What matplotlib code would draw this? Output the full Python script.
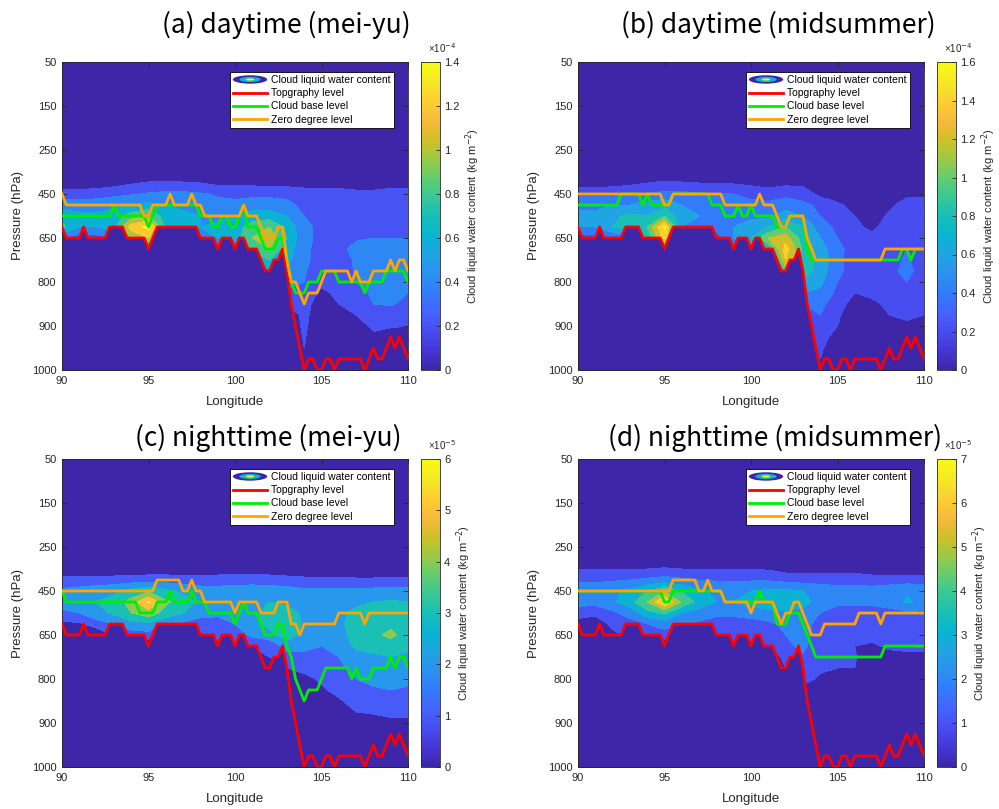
import numpy as np
import matplotlib
matplotlib.use("Agg")
import matplotlib.pyplot as plt
from matplotlib.colors import LinearSegmentedColormap, Normalize
from matplotlib.cm import ScalarMappable
from matplotlib.legend_handler import HandlerBase
from matplotlib.patches import Ellipse

plt.rcParams['font.family'] = ['Liberation Sans', 'DejaVu Sans']

# ---------------------------------------------------------------- data
# pressure levels, bottom (index 0) to top
levels_hpa = [1000, 975, 950, 925, 900, 875, 850, 825, 800, 775, 750, 700, 650,
              600, 550, 500, 450, 400, 350, 300, 250, 225, 200, 175, 150, 125,
              100, 70, 50]
ytick_hpa = [1000, 900, 800, 650, 450, 250, 150, 50]

lon_line = np.linspace(90, 110, 81)      # 0.25 deg
lon_field = np.arange(90, 111)           # 1 deg

topography = [
    600, 650, 650, 650, 650, 600, 650, 650, 650, 650,
    650, 600, 600, 600, 600, 650, 650, 650, 650, 650,
    700, 650, 600, 600, 600, 600, 600, 600, 600, 600,
    600, 600, 650, 650, 650, 650, 700, 650, 650, 650,
    700, 650, 650, 700, 700, 700, 750, 775, 775, 750,
    750, 700, 775, 850, 900, 950, 1000, 975, 975, 1000,
    1000, 975, 975, 1000, 975, 975, 975, 975, 975, 975,
    1000, 975, 950, 975, 975, 950, 925, 950, 925, 950,
    975]

base_a = [
    550, 550, 550, 550, 550, 550, 550, 550, 550, 550,
    550, 550, 500, 550, 550, 550, 550, 550, 550, 550,
    600, 550, 500, 500, 500, 500, 500, 500, 500, 500,
    500, 500, 550, 550, 550, 600, 600, 550, 550, 600,
    600, 550, 500, 600, 600, 600, 650, 700, 700, 700,
    650, 650, 750, 800, 825, 825, 825, 800, 800, 800,
    775, 775, 775, 775, 800, 800, 800, 800, 800, 800,
    825, 800, 800, 800, 800, 775, 775, 775, 775, 775,
    800]
zero_a = [
    450, 500, 500, 500, 500, 500, 500, 500, 500, 500,
    500, 500, 500, 500, 500, 500, 500, 500, 500, 550,
    550, 500, 500, 500, 500, 450, 500, 500, 500, 500,
    450, 500, 500, 550, 550, 550, 550, 550, 550, 550,
    550, 550, 500, 550, 550, 550, 600, 650, 650, 650,
    600, 600, 750, 800, 800, 825, 850, 825, 825, 825,
    800, 775, 775, 775, 775, 775, 775, 800, 775, 800,
    800, 800, 775, 775, 775, 775, 750, 775, 750, 750,
    775]

base_b = [
    500, 500, 500, 500, 500, 500, 500, 500, 500, 500,
    450, 450, 450, 450, 450, 500, 450, 500, 500, 500,
    500, 500, 450, 450, 450, 450, 450, 450, 450, 450,
    450, 500, 500, 500, 550, 550, 550, 500, 550, 550,
    500, 550, 550, 550, 550, 550, 600, 600, 600, 550,
    550, 550, 550, 700, 750, 750, 750, 750, 750, 750,
    750, 750, 750, 750, 750, 750, 750, 750, 750, 750,
    750, 750, 750, 750, 750, 700, 700, 750, 700, 700,
    700]
zero_b = [
    450, 450, 450, 450, 450, 450, 450, 450, 450, 450,
    450, 450, 450, 450, 450, 450, 450, 450, 450, 450,
    500, 500, 450, 450, 450, 450, 450, 450, 450, 450,
    450, 450, 450, 450, 500, 500, 500, 500, 500, 500,
    500, 500, 450, 500, 500, 500, 550, 600, 600, 550,
    550, 550, 550, 650, 700, 750, 750, 750, 750, 750,
    750, 750, 750, 750, 750, 750, 750, 750, 750, 750,
    750, 700, 700, 700, 700, 700, 700, 700, 700, 700,
    700]

base_c = [
    450, 500, 500, 500, 500, 500, 500, 500, 500, 500,
    500, 500, 500, 500, 500, 500, 500, 500, 550, 550,
    550, 550, 500, 500, 500, 450, 500, 500, 500, 500,
    450, 500, 500, 500, 550, 550, 550, 550, 550, 550,
    600, 550, 500, 550, 550, 550, 600, 650, 650, 650,
    600, 600, 700, 750, 800, 825, 850, 825, 825, 825,
    800, 775, 775, 775, 775, 775, 775, 800, 775, 800,
    800, 800, 775, 775, 775, 775, 750, 775, 750, 750,
    775]
zero_c = [
    450, 450, 450, 450, 450, 450, 450, 450, 450, 450,
    450, 450, 450, 450, 450, 450, 450, 450, 450, 450,
    450, 450, 400, 400, 400, 400, 400, 400, 450, 450,
    400, 450, 450, 500, 500, 500, 500, 500, 500, 500,
    550, 500, 500, 500, 500, 500, 550, 550, 550, 550,
    500, 500, 500, 600, 600, 650, 600, 600, 600, 600,
    600, 600, 600, 600, 550, 550, 550, 550, 550, 550,
    600, 550, 550, 550, 550, 550, 550, 550, 550, 550,
    550]

base_d = [
    450, 450, 450, 450, 450, 450, 450, 450, 450, 450,
    450, 450, 450, 450, 450, 450, 450, 450, 450, 450,
    500, 500, 450, 450, 450, 450, 450, 450, 450, 450,
    450, 450, 450, 450, 500, 500, 500, 500, 500, 500,
    500, 500, 450, 500, 500, 500, 600, 600, 600, 550,
    550, 550, 600, 650, 700, 750, 750, 750, 750, 750,
    750, 750, 750, 750, 750, 750, 750, 750, 750, 750,
    750, 700, 700, 700, 700, 700, 700, 700, 700, 700,
    700]
zero_d = [
    450, 450, 450, 450, 450, 450, 450, 450, 450, 450,
    450, 450, 450, 450, 450, 450, 450, 450, 450, 450,
    450, 450, 400, 400, 400, 400, 400, 400, 450, 450,
    400, 450, 450, 450, 500, 500, 500, 500, 500, 500,
    550, 500, 500, 500, 500, 500, 550, 600, 550, 550,
    500, 500, 550, 600, 650, 650, 650, 600, 600, 600,
    600, 600, 600, 600, 600, 550, 550, 550, 550, 550,
    600, 550, 550, 550, 550, 550, 550, 550, 550, 550,
    550]

# cloud liquid water content on the 1-degree grid (rows = field_hpa)
field_hpa = [300, 350, 400, 450, 500, 550, 600, 650, 700, 750, 775, 800,
             825, 850, 875, 900, 925, 950, 975]
#          90   91   92   93   94   95   96   97   98   99  100  101  102  103  104  105  106  107  108  109  110
clw_a = [  # x 1e-4
    [0] * 21,
    [0] * 21,
    [.05, .05, .08, .12, .18, .22, .24, .22, .20, .15, .15, .15, .12, .12, .10, .10, .10, .05, .05, .10, .10],
    [.30, .30, .32, .35, .38, .42, .45, .45, .42, .38, .35, .35, .35, .35, .32, .30, .30, .28, .28, .30, .30],
    [.50, .50, .50, .55, .60, .65, .60, .55, .50, .45, .45, .50, .50, .45, .35, .35, .35, .32, .35, .35, .35],
    [.75, .65, .65, .70, .90, 1.0, .70, .65, .60, .55, .60, .70, .70, .60, .40, .35, .35, .35, .35, .35, .35],
    [.85, .60, .60, .70, 1.3, 1.45, .75, .70, .60, .65, .70, .90, 1.0, .75, .45, .35, .35, .35, .35, .38, .38],
    [.40, .30, .30, .40, 1.0, 1.2, .50, .50, .40, .60, .70, 1.0, 1.1, .80, .45, .35, .35, .38, .40, .40, .40],
    [0, 0, 0, 0, 0, .50, 0, 0, 0, .30, .40, .90, 1.0, .70, .45, .32, .35, .45, .52, .55, .50],
    [0, 0, 0, 0, 0, 0, 0, 0, 0, 0, 0, .40, .80, .65, .45, .30, .32, .42, .50, .52, .48],
    [0, 0, 0, 0, 0, 0, 0, 0, 0, 0, 0, 0, .60, .60, .42, .28, .30, .42, .48, .50, .45],
    [0, 0, 0, 0, 0, 0, 0, 0, 0, 0, 0, 0, .20, .50, .40, .25, .28, .40, .45, .48, .42],
    [0, 0, 0, 0, 0, 0, 0, 0, 0, 0, 0, 0, 0, .35, .35, .15, .25, .35, .42, .45, .40],
    [0, 0, 0, 0, 0, 0, 0, 0, 0, 0, 0, 0, 0, .20, .30, .05, .20, .28, .40, .42, .35],
    [0, 0, 0, 0, 0, 0, 0, 0, 0, 0, 0, 0, 0, 0, .28, 0, .10, .20, .25, .30, .25],
    [0, 0, 0, 0, 0, 0, 0, 0, 0, 0, 0, 0, 0, 0, .25, 0, 0, .08, .25, .22, .20],
    [0, 0, 0, 0, 0, 0, 0, 0, 0, 0, 0, 0, 0, 0, .22, 0, 0, 0, .15, .10, .12],
    [0, 0, 0, 0, 0, 0, 0, 0, 0, 0, 0, 0, 0, 0, .20, 0, 0, 0, 0, 0, 0],
    [0, 0, 0, 0, 0, 0, 0, 0, 0, 0, 0, 0, 0, 0, .15, 0, 0, 0, 0, 0, 0],
]
clw_b = [  # x 1e-4
    [0] * 21,
    [0] * 21,
    [.10, .10, .12, .15, .20, .24, .22, .20, .20, .18, .15, .12, .15, .15, .05, 0, 0, 0, 0, 0, 0],
    [.35, .35, .35, .38, .42, .45, .45, .42, .42, .40, .35, .30, .35, .30, .15, .05, 0, 0, .05, .15, .15],
    [.55, .55, .60, .60, .70, .75, .60, .55, .55, .50, .45, .45, .50, .45, .35, .25, .10, 0, .15, .30, .30],
    [.65, .65, .75, .85, .80, 1.0, .65, .60, .55, .55, .55, .55, .70, .60, .40, .30, .20, .05, .25, .30, .30],
    [.60, .60, .80, .90, 1.0, 1.65, .60, .60, .50, .60, .70, .80, 1.0, .80, .50, .35, .25, .15, .30, .35, .30],
    [.30, .30, .40, .50, .80, 1.5, .30, .30, .30, .60, .80, 1.2, 1.3, .90, .60, .40, .30, .25, .35, .35, .32],
    [0, 0, 0, 0, 0, .60, 0, 0, 0, .40, .60, .80, 1.5, .95, .70, .45, .32, .28, .35, .40, .32],
    [0, 0, 0, 0, 0, 0, 0, 0, 0, 0, 0, .30, 1.4, .90, .75, .45, .30, .28, .35, .42, .32],
    [0, 0, 0, 0, 0, 0, 0, 0, 0, 0, 0, 0, 1.0, .90, .70, .45, .30, .30, .35, .45, .32],
    [0, 0, 0, 0, 0, 0, 0, 0, 0, 0, 0, 0, .30, .80, .65, .40, .25, .30, .35, .40, .30],
    [0, 0, 0, 0, 0, 0, 0, 0, 0, 0, 0, 0, 0, .60, .55, .35, .20, .25, .30, .35, .25],
    [0, 0, 0, 0, 0, 0, 0, 0, 0, 0, 0, 0, 0, .40, .45, .30, .10, .15, .25, .30, .22],
    [0, 0, 0, 0, 0, 0, 0, 0, 0, 0, 0, 0, 0, 0, .40, .25, 0, .05, .20, .25, .20],
    [0, 0, 0, 0, 0, 0, 0, 0, 0, 0, 0, 0, 0, 0, .35, .20, 0, 0, .10, .15, .15],
    [0, 0, 0, 0, 0, 0, 0, 0, 0, 0, 0, 0, 0, 0, .30, .10, 0, 0, 0, 0, 0],
    [0, 0, 0, 0, 0, 0, 0, 0, 0, 0, 0, 0, 0, 0, .25, 0, 0, 0, 0, 0, 0],
    [0, 0, 0, 0, 0, 0, 0, 0, 0, 0, 0, 0, 0, 0, .20, 0, 0, 0, 0, 0, 0],
]
clw_c = [  # x 1e-5
    [0] * 21,
    [.3, .3, .3, .3, .3, .3, .3, .3, .3, .4, .4, .4, .4, .3, .2, .2, .2, .1, .1, .1, .1],
    [1.3, 1.3, 1.4, 1.4, 1.5, 1.6, 1.6, 1.5, 1.4, 1.5, 1.6, 1.6, 1.5, 1.4, 1.3, 1.3, 1.3, 1.2, 1.2, 1.3, 1.3],
    [2.2, 2.4, 2.6, 2.8, 3.3, 3.8, 3.2, 2.8, 2.5, 2.4, 2.4, 2.5, 2.5, 2.4, 2.2, 2.2, 2.2, 2.2, 2.3, 2.4, 2.4],
    [2.4, 2.6, 3.0, 3.4, 4.4, 6.1, 4.2, 3.4, 2.8, 2.6, 2.6, 2.8, 3.0, 2.8, 2.6, 2.6, 2.7, 2.8, 3.0, 3.1, 3.0],
    [1.8, 2.0, 2.6, 3.2, 4.0, 4.6, 3.6, 3.0, 2.4, 2.2, 2.4, 2.8, 3.3, 3.4, 2.8, 2.6, 2.8, 3.2, 3.4, 3.6, 3.3],
    [.8, .8, 1.6, 2.0, 2.6, 2.8, 2.2, 1.8, 1.5, 1.6, 2.0, 2.6, 3.4, 4.0, 2.8, 2.4, 2.8, 3.4, 3.6, 3.8, 3.5],
    [0, 0, 0, 1.0, 1.5, 1.6, 0, 0, 1.0, 1.2, 1.5, 2.2, 2.6, 3.6, 2.6, 2.2, 2.6, 3.4, 3.8, 4.2, 3.6],
    [0, 0, 0, 0, 0, 0, 0, 0, 0, .8, 1.0, 1.2, 1.3, 2.4, 2.4, 2.0, 2.4, 3.2, 3.4, 3.6, 3.2],
    [0, 0, 0, 0, 0, 0, 0, 0, 0, 0, 0, 0, 1.0, 1.6, 1.6, 1.6, 2.0, 2.6, 2.8, 3.0, 2.8],
    [0, 0, 0, 0, 0, 0, 0, 0, 0, 0, 0, 0, 0, 1.0, 1.2, 1.4, 1.8, 2.3, 2.5, 2.6, 2.5],
    [0, 0, 0, 0, 0, 0, 0, 0, 0, 0, 0, 0, 0, .5, .8, 1.1, 1.5, 2.0, 2.2, 2.3, 2.2],
    [0, 0, 0, 0, 0, 0, 0, 0, 0, 0, 0, 0, 0, 0, .5, .9, 1.2, 1.6, 1.9, 2.0, 1.9],
    [0, 0, 0, 0, 0, 0, 0, 0, 0, 0, 0, 0, 0, 0, 0, .5, .9, 1.3, 1.5, 1.6, 1.5],
    [0, 0, 0, 0, 0, 0, 0, 0, 0, 0, 0, 0, 0, 0, 0, 0, .5, 1.0, 1.1, 1.2, 1.2],
    [0, 0, 0, 0, 0, 0, 0, 0, 0, 0, 0, 0, 0, 0, 0, 0, 0, .5, .6, .8, .8],
    [0] * 21,
    [0] * 21,
    [0] * 21,
]
clw_d = [  # x 1e-5
    [.2, .2, .2, .2, .2, .2, .2, .2, .2, .2, .2, .2, .1, .1, .1, .1, .1, 0, 0, 0, 0],
    [1.0, 1.0, 1.0, 1.0, 1.0, 1.1, 1.0, 1.0, .95, .95, .95, .9, .6, .6, .6, .6, .6, .4, .3, .3, .3],
    [1.8, 1.8, 1.9, 2.0, 2.2, 2.4, 2.2, 2.0, 1.9, 1.9, 1.9, 1.9, 1.7, 1.6, 1.6, 1.6, 1.6, 1.5, 1.5, 1.5, 1.5],
    [2.6, 2.6, 2.8, 3.2, 4.0, 4.8, 4.0, 3.2, 2.8, 2.8, 3.0, 3.2, 3.2, 3.0, 2.6, 2.4, 2.4, 2.4, 2.6, 2.9, 2.8],
    [2.4, 2.4, 2.8, 3.6, 5.0, 7.1, 4.8, 3.6, 3.0, 3.0, 3.4, 3.8, 3.8, 3.4, 2.6, 2.2, 2.2, 2.2, 2.5, 3.1, 2.8],
    [1.4, 1.2, 1.8, 2.4, 3.6, 4.2, 3.0, 2.6, 2.2, 2.2, 2.4, 2.6, 2.8, 2.6, 2.0, 1.6, 1.6, 1.6, 1.6, 1.8, 1.8],
    [.6, .5, 1.2, 1.6, 2.0, 2.4, 2.0, 1.8, 1.6, 1.6, 1.6, 1.8, 2.2, 2.4, 1.6, 1.4, 1.4, 1.4, 1.4, 1.4, 1.4],
    [.2, .2, .8, 1.2, 1.4, 1.6, .5, .5, 1.2, 1.2, 1.3, 1.5, 2.0, 2.4, 1.5, 1.3, 1.2, 1.2, 1.3, 1.3, 1.3],
    [0, 0, 0, 0, 0, 0, 0, 0, 0, .8, 1.0, 1.2, 1.8, 2.2, 1.4, 1.2, 1.0, .9, 1.1, 1.1, 1.1],
    [0, 0, 0, 0, 0, 0, 0, 0, 0, 0, 0, 0, 1.4, 1.9, 1.2, 1.05, 1.05, .6, .8, .9, .9],
    [0, 0, 0, 0, 0, 0, 0, 0, 0, 0, 0, 0, 1.0, 1.6, 1.1, 1.0, 1.0, .4, .6, .7, .7],
    [0, 0, 0, 0, 0, 0, 0, 0, 0, 0, 0, 0, 0, 1.2, .9, .8, .8, .2, .3, .4, .5],
    [0, 0, 0, 0, 0, 0, 0, 0, 0, 0, 0, 0, 0, .8, .6, .5, .5, 0, 0, 0, 0],
    [0, 0, 0, 0, 0, 0, 0, 0, 0, 0, 0, 0, 0, .4, .3, 0, 0, 0, 0, 0, 0],
    [0] * 21,
    [0] * 21,
    [0] * 21,
    [0] * 21,
    [0] * 21,
]

titles = ['(a) daytime (mei-yu)', '(b) daytime (midsummer)',
          '(c) nighttime (mei-yu)', '(d) nighttime (midsummer)']
cbar_max = [1.4, 1.6, 6, 7]
cbar_step = [0.2, 0.2, 1, 1]
cbar_exp = [-4, -4, -5, -5]
legend_labels = ['Cloud liquid water content', 'Topgraphy level',
                 'Cloud base level', 'Zero degree level']

# ---------------------------------------------------------------- colours
parula_pts = [
    (0.2422, 0.1504, 0.6603), (0.2706, 0.2147, 0.8364), (0.2813, 0.3006, 0.9414),
    (0.2699, 0.3892, 0.9906), (0.1963, 0.4847, 0.9892), (0.1687, 0.5703, 0.9359),
    (0.1248, 0.6459, 0.8883), (0.0297, 0.7082, 0.8163), (0.0964, 0.7500, 0.7120),
    (0.2161, 0.7843, 0.5923), (0.3909, 0.8029, 0.4354), (0.6174, 0.7876, 0.2612),
    (0.8203, 0.7498, 0.1535), (0.9728, 0.7298, 0.2394), (0.9892, 0.8136, 0.1885),
    (0.9597, 0.9135, 0.1423), (0.9769, 0.9839, 0.0805)]
parula = LinearSegmentedColormap.from_list('parula', parula_pts, N=256)
bg = parula(0.0)


class CloudHandler(HandlerBase):
    # concentric ellipses standing for the filled contours
    def create_artists(self, legend, orig_handle, xdescent, ydescent,
                       width, height, fontsize, trans):
        cx, cy = width / 2 - xdescent, height / 2 - ydescent
        arts = []
        for frac, c in [(1.0, parula(0.0)), (0.62, parula(0.45)), (0.25, parula(1.0))]:
            arts.append(Ellipse((cx, cy), width * frac, height * 1.15 * frac,
                                facecolor=c, edgecolor='none', transform=trans))
        return arts


def pidx(p):
    return levels_hpa.index(p)


W, H = 999, 809
fig = plt.figure(figsize=(W / 100, H / 100), dpi=100)

ax_px = [(62, 62), (578, 62), (62, 459), (578, 459)]
title_px = [(286, 25), (778, 25), (268, 438), (775, 438)]
fields = [clw_a, clw_b, clw_c, clw_d]
bases = [base_a, base_b, base_c, base_d]
zeros = [zero_a, zero_b, zero_c, zero_d]

topo_y = [pidx(p) for p in topography]
tick_col = '#262626'

for i in range(4):
    x0, y0 = ax_px[i]
    ax = fig.add_axes([x0 / W, 1 - (y0 + 308) / H, 346 / W, 308 / H])
    ax.set_facecolor(bg)

    z = np.zeros((len(levels_hpa), len(lon_field)))
    for p, row in zip(field_hpa, fields[i]):
        z[pidx(p)] = row
    vmax, step = cbar_max[i], cbar_step[i]
    lv = list(np.round(np.arange(0, vmax + step / 2, step), 6))
    cols = [parula(l / vmax) for l in lv]
    ax.contourf(lon_field, np.arange(len(levels_hpa)), z,
                levels=[-1] + lv[1:] + [1e3], colors=cols, zorder=1)

    ax.fill_between(lon_line, topo_y, -1, color=bg, lw=0, zorder=2)
    h_topo, = ax.plot(lon_line, topo_y, color='#ff0000', lw=2, zorder=3)
    h_base, = ax.plot(lon_line, [pidx(p) for p in bases[i]], color='#00ee00', lw=2, zorder=4)
    h_zero, = ax.plot(lon_line, [pidx(p) for p in zeros[i]], color='#ffa500', lw=2, zorder=5)

    ax.set_xlim(90, 110)
    ax.set_ylim(0, 28)
    ax.set_xticks([90, 95, 100, 105, 110])
    ax.set_yticks([pidx(p) for p in ytick_hpa])
    ax.set_yticklabels([str(p) for p in ytick_hpa])
    ax.tick_params(direction='in', top=True, right=True, length=3.5, width=0.6,
                   labelsize=8, colors=tick_col, pad=4)
    for s in ax.spines.values():
        s.set_color(tick_col)
        s.set_linewidth(0.6)
    ax.set_xlabel('Longitude', fontsize=9.5, color=tick_col)
    ax.set_ylabel('Pressure (hPa)', fontsize=9.5, color=tick_col)
    ax.xaxis.set_label_coords(0.5, -0.085)
    ax.yaxis.set_label_coords(-0.11, 0.5)

    cloud = Ellipse((0, 0), 1, 1)
    leg = ax.legend([cloud, h_topo, h_base, h_zero], legend_labels,
                    handler_map={cloud: CloudHandler()},
                    loc='upper right', bbox_to_anchor=(1 - 14 / 346, 1 - 10 / 308),
                    borderaxespad=0, fontsize=7.5, fancybox=False, framealpha=1,
                    edgecolor='black', handlelength=3.3, handletextpad=0.4,
                    labelspacing=0.3, borderpad=0.3)
    leg.get_frame().set_linewidth(0.6)
    leg.set_zorder(10)

    # colour bar
    cax = fig.add_axes([(x0 + 359) / W, 1 - (y0 + 308) / H, 19 / W, 308 / H])
    sm = ScalarMappable(norm=Normalize(0, vmax), cmap=parula)
    cb = fig.colorbar(sm, cax=cax)
    cb.set_ticks(lv)
    cb.set_ticklabels([f'{v:g}' for v in lv])
    cax.tick_params(direction='in', length=3, width=0.6, labelsize=8,
                    colors=tick_col, pad=3)
    cb.outline.set_edgecolor(tick_col)
    cb.outline.set_linewidth(0.6)
    cb.set_label('Cloud liquid water content (kg m$^{-2}$)', fontsize=8,
                 color=tick_col, labelpad=3)
    fig.text((x0 + 366) / W, 1 - (y0 - 14) / H, '\u00d710$^{%d}$' % cbar_exp[i],
             fontsize=7, color=tick_col, ha='left', va='center')

    tx, ty = title_px[i]
    fig.text(tx / W, 1 - ty / H, titles[i], fontsize=19, ha='center', va='center',
             family=['Noto Sans CJK SC', 'DejaVu Sans'], color='black')

fig.savefig('out.png', dpi=100)
